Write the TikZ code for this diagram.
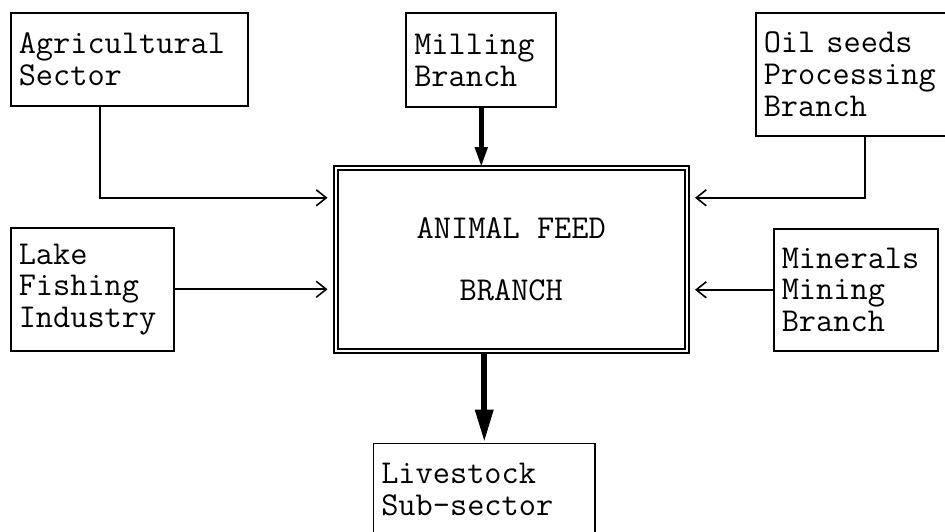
\documentclass[tikz,border=0pt]{standalone}
\usepackage{fontspec}
\usetikzlibrary{arrows.meta, positioning}

\begin{document}
\begin{tikzpicture}[
    x=0.02cm, y=-0.02cm,
    box/.style={draw, line width=0.9pt, inner xsep=0.16cm, inner ysep=0pt, align=left, font=\ttfamily\fontsize{19}{18}\selectfont},
    arr/.style={-{Straight Barb[length=0.2cm, width=0.32cm]}, line width=0.9pt, shorten >=0.15cm},
    inarr/.style={-{Triangle[length=0.4cm, width=0.24cm]}, line width=2.6pt},
    outarr/.style={-{Triangle[length=0.66cm, width=0.34cm]}, line width=3.6pt}
]
\useasboundingbox (0,0) rectangle (945,531);
\node[box, double, double distance=1.4pt, minimum width=7.02cm, minimum height=3.66cm, align=center, anchor=north west] (main) at (335,167) {ANIMAL FEED\\[0.6cm]BRANCH};
\node[box, anchor=north west, text width=4.42cm, minimum height=1.86cm] (agri) at (10,12) {Agricultural\\Sector};
\node[box, above=1.18cm of main, xshift=-0.6cm, text width=2.68cm, minimum height=1.88cm] (mill) {Milling\\Branch};
\node[box, anchor=north west, text width=3.78cm, minimum height=2.46cm] (oil) at (755,12) {Oil seeds\\Processing\\Branch};
\node[box, anchor=north west, text width=2.94cm, minimum height=2.46cm] (lake) at (10,227) {Lake\\Fishing\\Industry};
\node[box, anchor=north west, text width=2.96cm, minimum height=2.44cm] (mineral) at (773,228) {Minerals\\Mining\\Branch};
\node[box, below=1.82cm of main, xshift=-0.54cm, text width=4.12cm, minimum height=1.84cm] (live) {Livestock\\Sub-sector};

\draw[arr] ([xshift=1.8cm]agri.south west) |- ([yshift=1.23cm]main.west);
\draw[arr] ([xshift=2.2cm]oil.south west) |- ([yshift=1.23cm]main.east);
\draw[arr] (lake.east) -- (lake.east -| main.west);
\draw[arr] (mineral.west) -- (mineral.west -| main.east);
\draw[inarr] (mill) -- (mill |- main.north);
\draw[outarr] (main.south -| live) -- (live);
\end{tikzpicture}
\end{document}
